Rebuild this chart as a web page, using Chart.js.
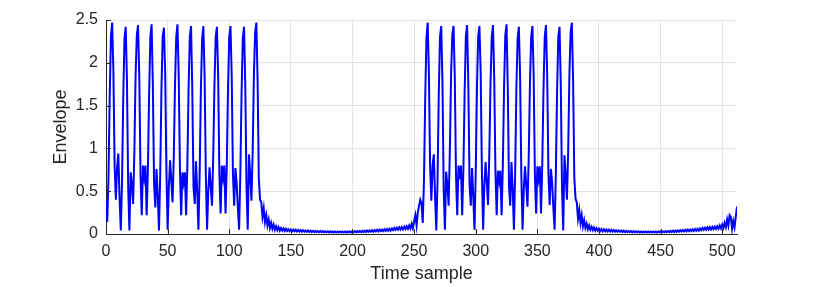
<!DOCTYPE html>
<html>
<head>
<meta charset="utf-8">
<script src="https://cdn.jsdelivr.net/npm/chart.js@4.4.1/dist/chart.umd.min.js"></script>
<style>
  html, body { margin: 0; padding: 0; background: #fff; }
  #wrap { width: 814px; height: 287px; }
</style>
</head>
<body>
<div id="wrap"><canvas id="envelopeChart" width="814" height="287"></canvas></div>
<script>
// envelope values per time sample
// samples 0..127 : first burst
const burstA = [
  0.39, 0.14, 0.65, 1.6, 2.3, 2.47,
  1.9, 0.8, 0.40, 0.78, 0.94, 0.42, 0.04, 0.6, 1.6, 2.28, 2.42,
  1.8, 0.55, 0.04, 0.72, 0.58, 0.35, 0.95, 1.85, 2.32, 2.44,
  1.85, 0.7, 0.22, 0.80, 0.66, 0.80, 0.22, 0.75, 1.65, 2.3, 2.45,
  1.75, 0.6, 0.31, 0.76, 0.45, 0.04, 0.7, 1.7, 2.3, 2.41,
  1.9, 0.75, 0.05, 0.55, 0.86, 0.62, 0.37, 0.9, 1.75, 2.3, 2.45,
  1.85, 0.75, 0.22, 0.72, 0.6, 0.72, 0.22, 0.8, 1.7, 2.3, 2.43,
  1.7, 0.55, 0.35, 0.85, 0.5, 0.05, 0.7, 1.7, 2.28, 2.43,
  1.85, 0.7, 0.05, 0.5, 0.78, 0.55, 0.33, 0.9, 1.75, 2.3, 2.42,
  1.85, 0.7, 0.24, 0.8, 0.66, 0.8, 0.24, 0.8, 1.7, 2.3, 2.43,
  1.85, 0.7, 0.33, 0.77, 0.6, 0.3, 0.05, 0.7, 1.65, 2.28, 2.42,
  1.75, 0.55, 0.05, 0.93, 0.7, 0.39, 0.95, 1.85, 2.35, 2.47,
  1.8, 0.65, 0.4, 0.37, 0.2
];

// samples 128..255 : quiet part after the first burst
const quietA = [
  0.3, 0.14, 0.22, 0.1, 0.17, 0.07, 0.13, 0.06, 0.11, 0.05,
  0.09, 0.045, 0.08, 0.04, 0.07, 0.04, 0.065, 0.035, 0.06, 0.035,
  0.055, 0.033, 0.053, 0.031, 0.05, 0.03, 0.049, 0.029, 0.047, 0.028,
  0.046, 0.027, 0.044, 0.026, 0.042, 0.025, 0.04, 0.024, 0.039, 0.023,
  0.037, 0.022, 0.036, 0.022, 0.035, 0.021, 0.034, 0.021, 0.033, 0.02,
  0.032, 0.02, 0.031, 0.019, 0.031, 0.019, 0.03, 0.018, 0.03, 0.018,
  0.029, 0.018, 0.029, 0.018, 0.029, 0.018, 0.03, 0.018, 0.03, 0.019,
  0.031, 0.019, 0.032, 0.02, 0.033, 0.021, 0.034, 0.021, 0.035, 0.022,
  0.036, 0.023, 0.038, 0.024, 0.04, 0.025, 0.042, 0.027, 0.044, 0.028,
  0.046, 0.03, 0.048, 0.031, 0.05, 0.033, 0.052, 0.034, 0.055, 0.036,
  0.058, 0.038, 0.06, 0.04, 0.064, 0.045, 0.07, 0.048, 0.074, 0.05,
  0.078, 0.052, 0.08, 0.054, 0.085, 0.058, 0.09, 0.062, 0.1, 0.065,
  0.12, 0.07, 0.15, 0.22, 0.1, 0.25, 0.33, 0.4
];

// samples 256..383 : second burst
const burstB = [
  0.36, 0.13, 0.62, 1.58, 2.28, 2.47,
  1.88, 0.78, 0.39, 0.8, 0.93, 0.44, 0.04, 0.62, 1.62, 2.3, 2.43,
  1.78, 0.52, 0.05, 0.73, 0.57, 0.33, 0.97, 1.87, 2.33, 2.43,
  1.83, 0.68, 0.22, 0.8, 0.64, 0.8, 0.22, 0.76, 1.66, 2.31, 2.44,
  1.74, 0.58, 0.33, 0.77, 0.44, 0.05, 0.72, 1.72, 2.31, 2.43,
  1.9, 0.74, 0.05, 0.57, 0.84, 0.6, 0.34, 0.92, 1.76, 2.3, 2.44,
  1.84, 0.73, 0.22, 0.74, 0.62, 0.74, 0.22, 0.8, 1.72, 2.32, 2.45,
  1.72, 0.56, 0.33, 0.84, 0.52, 0.05, 0.72, 1.72, 2.29, 2.42,
  1.84, 0.7, 0.05, 0.52, 0.79, 0.56, 0.32, 0.9, 1.76, 2.3, 2.43,
  1.86, 0.7, 0.24, 0.79, 0.65, 0.79, 0.24, 0.82, 1.7, 2.3, 2.44,
  1.85, 0.7, 0.34, 0.76, 0.6, 0.3, 0.05, 0.7, 1.66, 2.3, 2.42,
  1.76, 0.55, 0.04, 0.92, 0.7, 0.4, 0.95, 1.86, 2.36, 2.47,
  1.8, 0.66, 0.41, 0.37, 0.18
];

// samples 384..512 : quiet part after the second burst
const quietB = [
  0.28, 0.13, 0.22, 0.09, 0.16, 0.07, 0.12, 0.055, 0.1, 0.05,
  0.085, 0.045, 0.075, 0.04, 0.068, 0.038, 0.062, 0.035, 0.058, 0.032,
  0.055, 0.031, 0.052, 0.03, 0.05, 0.029, 0.048, 0.028, 0.046, 0.027,
  0.044, 0.026, 0.042, 0.025, 0.04, 0.024, 0.038, 0.023, 0.036, 0.022,
  0.035, 0.021, 0.034, 0.02, 0.033, 0.02, 0.032, 0.019, 0.031, 0.019,
  0.03, 0.018, 0.03, 0.018, 0.029, 0.018, 0.029, 0.018, 0.029, 0.018,
  0.029, 0.018, 0.03, 0.018, 0.03, 0.019, 0.031, 0.019, 0.032, 0.02,
  0.033, 0.021, 0.034, 0.022, 0.036, 0.023, 0.038, 0.024, 0.04, 0.026,
  0.042, 0.027, 0.044, 0.029, 0.046, 0.03, 0.048, 0.031, 0.05, 0.033,
  0.052, 0.034, 0.055, 0.036, 0.058, 0.038, 0.06, 0.04, 0.064, 0.045,
  0.07, 0.048, 0.074, 0.05, 0.078, 0.052, 0.08, 0.054, 0.082, 0.056,
  0.085, 0.06, 0.09, 0.062, 0.1, 0.065, 0.11, 0.07, 0.13, 0.08,
  0.17, 0.1, 0.22, 0.2, 0.06, 0.15, 0.08, 0.2, 0.32
];

const xTickValues = [0, 50, 100, 150, 200, 250, 300, 350, 400, 450, 500];
const yTickValues = [0, 0.5, 1, 1.5, 2, 2.5];

const envelope = burstA.concat(quietA, burstB, quietB);
const points = envelope.map((v, i) => ({ x: i, y: v }));

const axisColor = '#262626';
const gridColor = '#e3e3e3';
const fontFamily = '"Liberation Sans", Arial, Helvetica, sans-serif';

// MATLAB style ticks pointing into the plot
const innerTicks = {
  id: 'innerTicks',
  afterDatasetsDraw(chart) {
    const { ctx, chartArea, scales } = chart;
    ctx.save();
    ctx.strokeStyle = axisColor;
    ctx.lineWidth = 1;
    ctx.beginPath();
    scales.x.ticks.forEach(t => {
      const px = Math.round(scales.x.getPixelForValue(t.value)) + 0.5;
      ctx.moveTo(px, chartArea.bottom);
      ctx.lineTo(px, chartArea.bottom - 5);
    });
    scales.y.ticks.forEach(t => {
      const py = Math.round(scales.y.getPixelForValue(t.value)) + 0.5;
      ctx.moveTo(chartArea.left, py);
      ctx.lineTo(chartArea.left + 5, py);
    });
    ctx.stroke();
    ctx.restore();
  }
};

new Chart(document.getElementById('envelopeChart'), {
  type: 'line',
  data: {
    datasets: [{
      data: points,
      borderColor: '#0000ff',
      borderWidth: 2,
      pointRadius: 0,
      fill: false,
      tension: 0
    }]
  },
  options: {
    responsive: false,
    animation: false,
    devicePixelRatio: 1,
    layout: { padding: { top: 20, right: 77, bottom: 0, left: 0 } },
    plugins: {
      legend: { display: false },
      tooltip: { enabled: false }
    },
    scales: {
      x: {
        type: 'linear',
        min: 0,
        max: 512,
        afterBuildTicks: s => { s.ticks = xTickValues.map(v => ({ value: v })); },
        afterFit: s => { s.height = 53; },
        grid: { color: gridColor, drawTicks: false },
        border: { color: axisColor, width: 1 },
        ticks: {
          color: axisColor,
          font: { family: fontFamily, size: 16 },
          padding: 8,
          maxRotation: 0,
          autoSkip: false
        },
        title: {
          display: true,
          text: 'Time sample',
          color: axisColor,
          font: { family: fontFamily, size: 18 },
          padding: { top: 0, bottom: 2 }
        }
      },
      y: {
        min: 0,
        max: 2.5,
        afterBuildTicks: s => { s.ticks = yTickValues.map(v => ({ value: v })); },
        afterFit: s => { s.width = 106; },
        grid: { color: gridColor, drawTicks: false },
        border: { color: axisColor, width: 1 },
        ticks: {
          color: axisColor,
          font: { family: fontFamily, size: 16 },
          padding: 8,
          callback: v => String(v)
        },
        title: {
          display: true,
          text: 'Envelope',
          color: axisColor,
          font: { family: fontFamily, size: 18 },
          padding: { top: 50, bottom: 0 }
        }
      }
    }
  },
  plugins: [innerTicks]
});
</script>
</body>
</html>
